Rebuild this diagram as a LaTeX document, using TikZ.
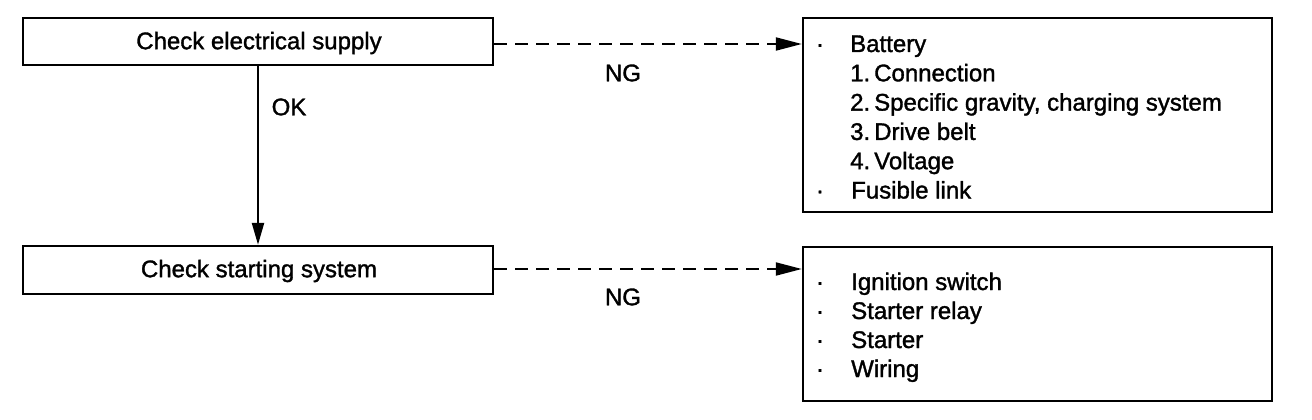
\documentclass[tikz,border=0pt]{standalone}
\usepackage{fontspec}
\setmainfont{Liberation Sans}
\newfontfamily\dfont[FakeBold=1.4]{Liberation Sans}
\usetikzlibrary{arrows.meta}
\tikzset{
  box/.style={draw, line width=2.4pt, rectangle, inner sep=0pt},
  lbl/.style={font=\dfont\fontsize{24}{28}\selectfont, inner sep=0pt},
  itm/.style={lbl, anchor=base west},
  dot/.style={lbl, anchor=base},
  okline/.style={line width=2.3pt, -{Triangle[length=22pt,width=12pt]}},
  ngline/.style={line width=2pt, dash pattern=on 13pt off 8pt, -{Triangle[length=26pt,width=13pt]}}
}
\begin{document}
\begin{tikzpicture}[x=1pt,y=-1pt]
\useasboundingbox (0,0) rectangle (1312,420);
% left boxes
\node[box, minimum width=470pt, minimum height=47pt] (e1) at (258,41.5) {};
\node[lbl] (t1) at (259,43) {Check electrical supply};
\node[box, minimum width=470pt, minimum height=48pt] (e2) at (258,270) {};
\node[lbl] (t2) at (259,271) {Check starting system};
% right boxes
\node[box, minimum width=469pt, minimum height=194pt] (r1) at (1037.5,115) {};
\node[box, minimum width=469pt, minimum height=154pt] (r2) at (1037.5,324) {};
% connectors
\draw[okline] (e1.south) -- (e2.north);
\draw[ngline] (e1.east |- 0,44) coordinate (a1) -- (a1 -| r1.west);
\draw[ngline] (e2.east |- 0,269) coordinate (a2) -- (a2 -| r2.west);
% labels
\node[lbl] (ok) at (289,107) {OK};
\node[lbl] (ng1) at (623,73) {NG};
\node[lbl] (ng2) at (623,297) {NG};
% right box 1 text
\node[dot] (b1) at (820,52) {·};
\node[itm] (i1) at (850,52) {Battery};
\node[itm] (i2) at (850,81.3) {1.\,Connection};
\node[itm] (i3) at (850,110.6) {2.\,Specific gravity, charging system};
\node[itm] (i4) at (850,139.9) {3.\,Drive belt};
\node[itm] (i5) at (850,169.2) {4.\,Voltage};
\node[dot] (b2) at (820,198.5) {·};
\node[itm] (i6) at (851,198.5) {Fusible link};
% right box 2 text
\node[dot] (c1) at (820,290) {·};
\node[itm] (j1) at (851,290) {Ignition switch};
\node[dot] (c2) at (820,319) {·};
\node[itm] (j2) at (851,319) {Starter relay};
\node[dot] (c3) at (820,348) {·};
\node[itm] (j3) at (851,348) {Starter};
\node[dot] (c4) at (820,377) {·};
\node[itm] (j4) at (851,377) {Wiring};
\end{tikzpicture}
\end{document}
